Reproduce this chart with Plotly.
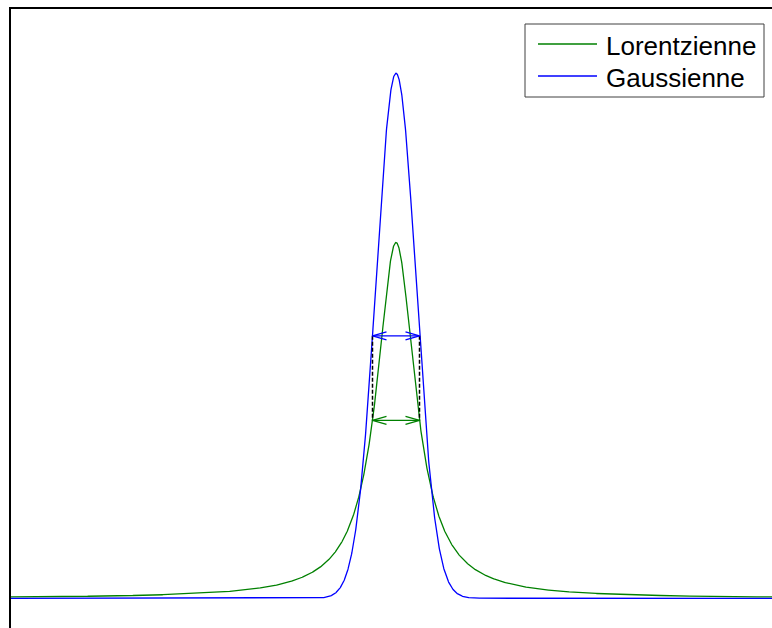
import numpy as np
import plotly.graph_objects as go

# Line-shape parameters shared by both profiles (same area, same FWHM)
center = 0.0
fwhm = 2.0
area = 1.0
series_names = ["Lorentzienne", "Gaussienne"]
series_colors = ["#008000", "#0000ff"]

x = np.linspace(-16.5, 16.5, 3301)

gamma = fwhm / 2.0
sigma = fwhm / (2.0 * np.sqrt(2.0 * np.log(2.0)))
lorentz = area / np.pi * gamma / ((x - center) ** 2 + gamma ** 2)
gauss = area / (sigma * np.sqrt(2.0 * np.pi)) * np.exp(-((x - center) ** 2) / (2.0 * sigma ** 2))

# axis ranges and plotting-area geometry (pixels)
x_range = [-16.383, 16.0]
y_range = [-0.02657, 0.5272]
left, top = 11, 9
plot_w, plot_h = 772 - left, 628 - top
px_x = plot_w / (x_range[1] - x_range[0])
px_y = plot_h / (y_range[1] - y_range[0])


def px(p):
    return (p - left) / plot_w


def py(p):
    return 1 - (p - top) / plot_h


fig = go.Figure()
for name, color, y in zip(series_names, series_colors, [lorentz, gauss]):
    fig.add_trace(go.Scatter(x=x, y=y, mode="lines", name=name,
                             line=dict(color=color, width=1.3)))

# half-maximum positions
x_left = center - fwhm / 2.0
x_right = center + fwhm / 2.0
half_l = lorentz.max() / 2.0
half_g = gauss.max() / 2.0

# dashed guides joining the two FWHM arrows
for xv in (x_left, x_right):
    fig.add_trace(go.Scatter(x=[xv, xv], y=[half_g, half_l], mode="lines",
                             showlegend=False, hoverinfo="skip",
                             line=dict(color="black", width=1.5, dash="4px,2px")))

# double-headed arrows with open heads
head_len = 14 / px_x
head_half = 4 / px_y


def arrow(yv, color):
    xs = [x_left, x_right, None,
          x_left + head_len, x_left, x_left + head_len, None,
          x_right - head_len, x_right, x_right - head_len]
    ys = [yv, yv, None,
          yv + head_half, yv, yv - head_half, None,
          yv + head_half, yv, yv - head_half]
    fig.add_trace(go.Scatter(x=xs, y=ys, mode="lines", showlegend=False,
                             hoverinfo="skip", line=dict(color=color, width=1.3)))


arrow(half_g, series_colors[1])
arrow(half_l, series_colors[0])

axis_common = dict(showline=True, linecolor="black", linewidth=2, mirror=False,
                   showgrid=False, zeroline=False, showticklabels=False, ticks="")

# legend box drawn in paper coordinates
shapes = [dict(type="rect", xref="paper", yref="paper",
               x0=px(525), x1=px(764), y0=py(97), y1=py(24),
               line=dict(color="#404040", width=1), fillcolor="white", layer="above")]
annotations = []
for i, (name, color) in enumerate(zip(series_names, series_colors)):
    ly = 44 + 32 * i
    shapes.append(dict(type="line", xref="paper", yref="paper",
                       x0=px(538), x1=px(597), y0=py(ly), y1=py(ly),
                       line=dict(color=color, width=1.3), layer="above"))
    annotations.append(dict(text=name, xref="paper", yref="paper",
                            x=px(604), y=py(ly + 1.5), xanchor="left", yanchor="middle",
                            showarrow=False,
                            font=dict(size=26, color="black",
                                      family="Liberation Sans, Arial, sans-serif")))

fig.update_layout(
    width=772, height=628,
    margin=dict(l=left, r=0, t=top, b=0),
    paper_bgcolor="white", plot_bgcolor="white",
    font=dict(family="Liberation Sans, Arial, sans-serif", color="black"),
    xaxis=dict(range=x_range, side="top", **axis_common),
    yaxis=dict(range=y_range, side="left", **axis_common),
    showlegend=False,
    shapes=shapes,
    annotations=annotations,
)

fig.write_html("out.html")
